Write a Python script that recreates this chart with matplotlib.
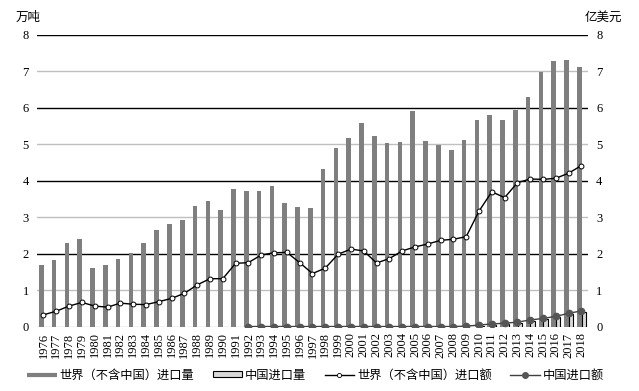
import matplotlib
matplotlib.use("Agg")
import matplotlib.pyplot as plt
from matplotlib.lines import Line2D
from matplotlib.patches import Patch

YEARS = list(range(1976, 2019))

# 世界（不含中国）进口量, 万吨
WORLD_QTY = [1.69, 1.84, 2.30, 2.42, 1.61, 1.69, 1.87, 2.02, 2.30, 2.66,
             2.83, 2.94, 3.31, 3.45, 3.21, 3.77, 3.71, 3.72, 3.87, 3.39,
             3.27, 3.26, 4.32, 4.91, 5.18, 5.59, 5.23, 5.03, 5.07, 5.92,
             5.09, 4.98, 4.84, 5.11, 5.67, 5.81, 5.68, 5.94, 6.30, 6.97,
             7.28, 7.32, 7.11]

# 世界（不含中国）进口额, 亿美元
WORLD_VAL = [0.33, 0.43, 0.57, 0.67, 0.57, 0.54, 0.65, 0.62, 0.61, 0.69,
             0.78, 0.92, 1.15, 1.32, 1.32, 1.74, 1.76, 1.97, 2.03, 2.04,
             1.76, 1.46, 1.61, 1.99, 2.13, 2.08, 1.75, 1.87, 2.08, 2.19,
             2.27, 2.37, 2.40, 2.47, 3.17, 3.70, 3.54, 3.95, 4.05, 4.04,
             4.07, 4.21, 4.42]

# 中国进口量 (2010-2018), 万吨
CN_QTY_YEARS = list(range(2010, 2019))
CN_QTY = [0.03, 0.06, 0.08, 0.10, 0.16, 0.22, 0.28, 0.35, 0.42]

# 中国进口额 (1992-2018), 亿美元
CN_VAL_YEARS = list(range(1992, 2019))
CN_VAL = [0.01] * 17 + [0.02, 0.05, 0.08, 0.10, 0.13, 0.19, 0.23, 0.29,
                        0.37, 0.44]

plt.rcParams["font.family"] = ["Liberation Serif", "Noto Sans CJK SC"]
CJK = ["Noto Sans CJK SC", "DejaVu Sans"]

fig = plt.figure(figsize=(6.39, 3.91), dpi=100)
ax = fig.add_axes([0.058, 0.164, 0.862, 0.747])

x = list(range(len(YEARS)))
ax.bar([i - 0.17 for i in x], WORLD_QTY, width=0.36, color="#7f7f7f",
       zorder=2)
cx = [YEARS.index(y) + 0.19 for y in CN_QTY_YEARS]
ax.bar(cx, CN_QTY, width=0.34, color="#d9d9d9", edgecolor="#000000",
       linewidth=0.8, zorder=2)

ax.plot(x, WORLD_VAL, color="#000000", linewidth=1.0, marker="o",
        markersize=3.5, markerfacecolor="white", markeredgecolor="#000000",
        markeredgewidth=0.7, zorder=4)
vx = [YEARS.index(y) for y in CN_VAL_YEARS]
ax.plot(vx, CN_VAL, color="#404040", linewidth=1.0, marker="o",
        markersize=4.5, markerfacecolor="#555555", markeredgecolor="#555555",
        zorder=4)

for v in range(0, 9):
    ax.axhline(v, color="#000000" if v % 2 == 0 and v > 0 else "#bfbfbf",
               linewidth=1.0, zorder=1)

ax.set_xlim(-0.5, len(YEARS) - 0.5)
ax.set_ylim(0, 8)
ax.set_yticks(range(0, 9))
ax.set_xticks(x)
ax.set_xticklabels([str(y) for y in YEARS], rotation=90, fontsize=8.5)
ax.tick_params(axis="both", length=0, labelsize=9)
ax.tick_params(axis="x", pad=4)
ax.tick_params(axis="y", pad=6)
for s in ax.spines.values():
    s.set_visible(False)

ax2 = ax.twinx()
ax2.set_ylim(0, 8)
ax2.set_yticks(range(0, 9))
ax2.tick_params(axis="y", length=0, labelsize=9, pad=6)
for s in ax2.spines.values():
    s.set_visible(False)

fig.text(0.025, 0.955, "万吨", family=CJK, fontsize=9, va="center")
fig.text(0.915, 0.955, "亿美元", family=CJK, fontsize=9, va="center")

handles = [
    Line2D([], [], color="#7f7f7f", linewidth=3.0, solid_capstyle="butt"),
    Patch(facecolor="#d9d9d9", edgecolor="#000000", linewidth=0.8),
    Line2D([], [], color="#000000", linewidth=1.0, marker="o", markersize=3,
           markerfacecolor="white", markeredgecolor="#000000",
           markeredgewidth=0.6),
    Line2D([], [], color="#404040", linewidth=1.0, marker="o", markersize=4,
           markerfacecolor="#555555", markeredgecolor="#555555"),
]
labels = ["世界（不含中国）进口量", "中国进口量", "世界（不含中国）进口额", "中国进口额"]
fig.legend(handles, labels, loc="center", bbox_to_anchor=(0.494, 0.041), ncol=4,
           frameon=False, prop={"family": CJK, "size": 8.8},
           handlelength=2.4, handleheight=0.45, handletextpad=0.25,
           columnspacing=1.5)

fig.savefig("out.png", dpi=100)
